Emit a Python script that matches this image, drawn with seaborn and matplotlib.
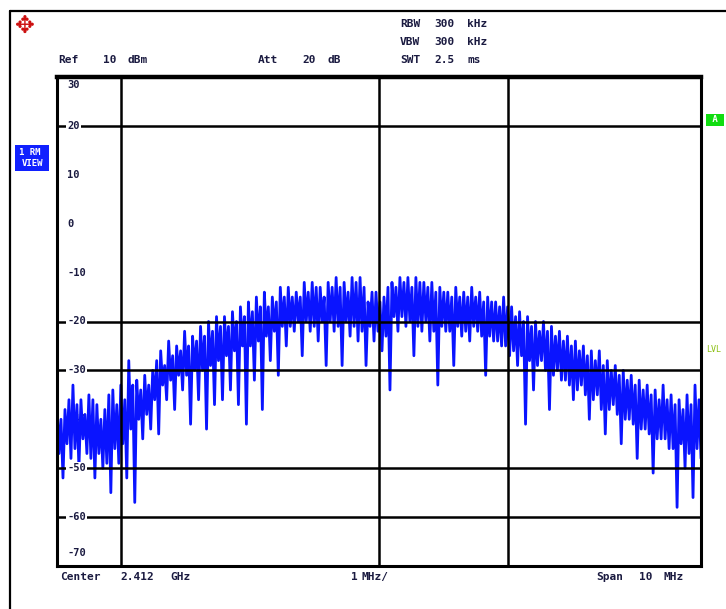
"""Spectrum analyzer screenshot: 2.412 GHz channel, 10 MHz span
"""

import numpy as np
import pandas as pd
import matplotlib

matplotlib.use("Agg")
import matplotlib.pyplot as plt
import seaborn as sns
from matplotlib.lines import Line2D

# Trace, per sweep segment (about 8 px each), in dBm:
# highest spike, band bottom, second spike, deepest dip
peak_db = [
    -37, -38, -33, -36, -35, -37, -38, -34, -33, -28,
    -32, -31, -30, -26, -24, -25, -22, -23, -21, -20,
    -19, -19, -18, -17, -16, -15, -14, -15, -13, -13,
    -14, -12, -12, -13, -12, -11, -12, -11, -11, -16,
    -14, -15, -12, -11, -11, -11, -12, -12, -13, -14,
    -13, -14, -13, -14, -15, -16, -15, -17, -18, -19,
    -20, -20, -21, -22, -23, -24, -25, -26, -26, -28,
    -29, -30, -31, -32, -33, -34, -33, -35, -36, -35,
    -33,
]
band_floor_db = [
    -47, -45, -46, -44, -48, -47, -49, -46, -45, -42,
    -40, -39, -36, -33, -32, -31, -31, -30, -30, -29,
    -28, -27, -26, -25, -25, -24, -23, -22, -21, -21,
    -20, -20, -21, -20, -20, -21, -20, -21, -22, -21,
    -22, -23, -19, -19, -20, -21, -20, -22, -21, -22,
    -21, -22, -21, -23, -23, -24, -25, -26, -27, -28,
    -29, -30, -31, -32, -33, -34, -35, -36, -38, -38,
    -39, -40, -41, -42, -43, -44, -44, -46, -45, -47,
    -46,
]
peak2_db = [
    -40, -36, -37, -39, -36, -40, -35, -37, -36, -33,
    -34, -33, -28, -29, -27, -26, -25, -24, -23, -22,
    -21, -21, -20, -19, -18, -17, -17, -16, -15, -15,
    -15, -14, -13, -15, -13, -13, -14, -12, -13, -14,
    -16, -13, -13, -12, -13, -12, -13, -14, -14, -15,
    -15, -15, -15, -16, -16, -17, -17, -19, -20, -21,
    -22, -22, -23, -24, -25, -26, -27, -28, -29, -30,
    -31, -32, -33, -34, -35, -36, -36, -37, -38, -37,
    -36,
]
dip_db = [
    -52, -48, -50, -47, -52, -50, -55, -49, -52, -57,
    -44, -42, -43, -36, -38, -34, -41, -36, -42, -37,
    -36, -34, -37, -41, -32, -38, -28, -31, -25, -22,
    -27, -22, -24, -29, -22, -29, -23, -24, -29, -24,
    -26, -34, -22, -21, -27, -22, -24, -33, -22, -29,
    -23, -24, -22, -31, -24, -25, -27, -29, -41, -34,
    -28, -38, -30, -32, -36, -33, -40, -35, -43, -37,
    -45, -40, -48, -42, -51, -44, -46, -58, -50, -56,
    -48,
]

center_ghz = 2.412
span_ghz = 0.010
y_labels = ["30", "20", "10", "0", "-10", "-20", "-30", "-40", "-50", "-60", "-70"]
y_levels = [30, 20, 10, 0, -10, -20, -30, -40, -50, -60, -70]
hlines_db = [20, -20, -30, -50, -60]
vlines_ghz = [2.408, 2.412, 2.414]

level = np.column_stack([peak_db, band_floor_db, peak2_db, dip_db]).ravel()
freq = np.linspace(center_ghz - span_ghz / 2, center_ghz + span_ghz / 2, len(level))
trace = pd.DataFrame({"Frequency": freq, "Level": level})

sns.set_style("white")
plt.rcParams["font.family"] = ["DejaVu Sans Mono", "DejaVu Sans"]

W, H = 726, 609
fig = plt.figure(figsize=(W / 100, H / 100), dpi=100)
ax = fig.add_axes([57 / W, 1 - 566 / H, (701 - 57) / W, (566 - 77) / H])

sns.lineplot(data=trace, x="Frequency", y="Level", ax=ax, color="#0a14ff",
             linewidth=2.0, estimator=None, sort=False, zorder=2)

ax.set_xlim(center_ghz - span_ghz / 2, center_ghz + span_ghz / 2)
ax.set_ylim(-70, 30)
ax.set_xticks([])
ax.set_yticks([])
ax.set_xlabel("")
ax.set_ylabel("")
for side, sp in ax.spines.items():
    sp.set_visible(True)
    sp.set_color("black")
    sp.set_linewidth(2.2)
    sp.set_zorder(5)
ax.spines["top"].set_linewidth(3.2)

for y in hlines_db:
    ax.axhline(y, color="black", linewidth=1.8, zorder=4)
for x in vlines_ghz:
    ax.axvline(x, color="black", linewidth=1.8, zorder=4)

# level labels drawn inside the grid; on a grid line they blank it out
txt_color = "#1a1a40"
for lab, lev in zip(y_labels, y_levels):
    yy = lev
    if lev == 30:
        yy = 28.4
    elif lev == -70:
        yy = -67.3
    on_line = lev in hlines_db
    ax.text(0.016, yy, lab, transform=ax.get_yaxis_transform(), fontsize=7.5,
            fontweight="bold", color=txt_color, ha="left", va="center",
            zorder=6 if on_line else 1,
            bbox=dict(facecolor="white", edgecolor="none", pad=1.0) if on_line else None)

# screen frame
fig.add_artist(Line2D([10 / W, 1.0], [1 - 11 / H, 1 - 11 / H], color="black", linewidth=1.6))
fig.add_artist(Line2D([10 / W, 10 / W], [0.0, 1 - 11 / H], color="black", linewidth=1.6))

# logo
fig.text(25 / W, 1 - 26 / H, "✥", color="#cc1010", fontsize=17, ha="center", va="center",
         family=["DejaVu Sans"])


def put(x, y, s, **kw):
    fig.text(x / W, 1 - y / H, s, fontsize=8, fontweight="bold", color=txt_color,
             va="center", **kw)


# header / footer words placed where they sit on the screen
for x, s in [(400, "RBW"), (434, "300"), (467, "kHz")]:
    put(x, 24, s)
for x, s in [(400, "VBW"), (434, "300"), (467, "kHz")]:
    put(x, 42, s)
for x, s in [(400, "SWT"), (434, "2.5"), (467, "ms")]:
    put(x, 60, s)
for x, s in [(58, "Ref"), (103, "10"), (127, "dBm"), (258, "Att"), (302, "20"), (327, "dB")]:
    put(x, 60, s)
for x, s in [(60, "Center"), (120, "2.412"), (170, "GHz"), (351, "1"), (361, "MHz/"),
             (596, "Span"), (639, "10"), (664, "MHz")]:
    put(x, 577, s)

fig.text(32 / W, 1 - 158 / H, "1 RM \nVIEW", fontsize=6.5, fontweight="bold", color="white",
         ha="center", va="center", linespacing=1.15,
         bbox=dict(facecolor="#1020ff", edgecolor="none", pad=2.2))
fig.text(715 / W, 1 - 120 / H, " A ", fontsize=6.5, fontweight="bold", color="white",
         ha="center", va="center",
         bbox=dict(facecolor="#10dd10", edgecolor="none", pad=1.0))
fig.text(706 / W, 1 - 350 / H, "LVL", fontsize=6, color="#8abf10", ha="left", va="center")

fig.savefig("out.png", dpi=100, facecolor="white")
